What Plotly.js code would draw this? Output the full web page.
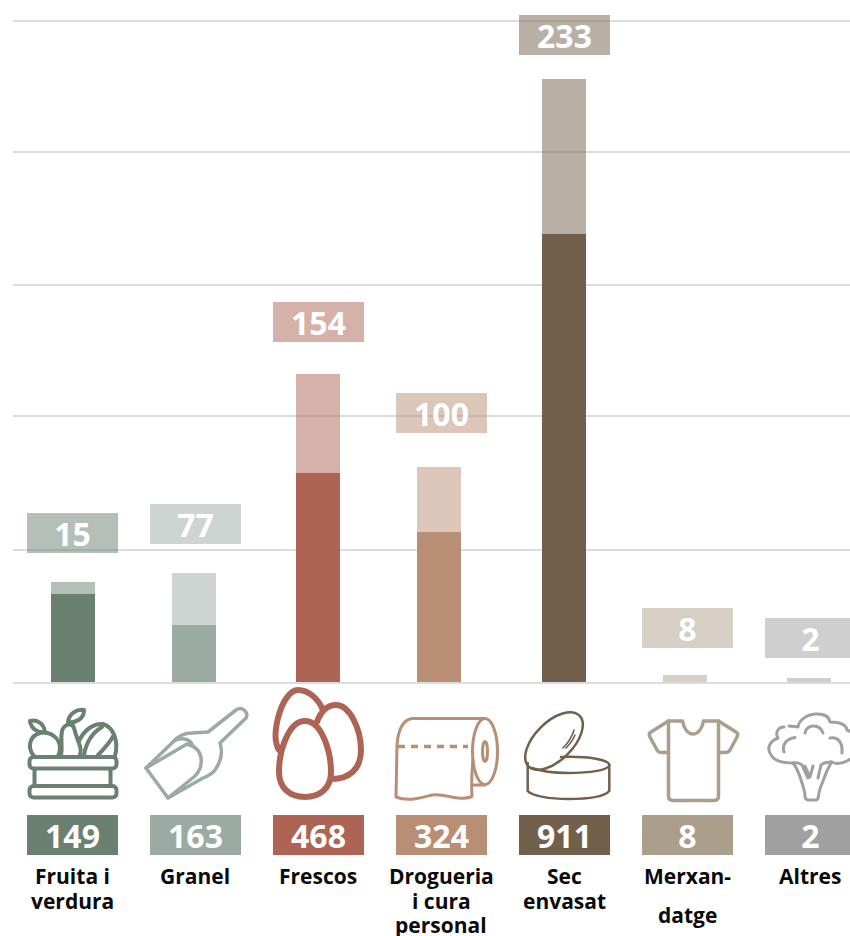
<!DOCTYPE html>
<html>
<head>
<meta charset="utf-8">
<script src="https://cdn.plot.ly/plotly-3.0.1.min.js"></script>
<style>html,body{margin:0;padding:0;background:#fff;overflow:hidden}#chart{width:850px;height:936px}</style>
</head>
<body>
<div id="chart"></div>
<script>
// --- data ---
var categories = ['Fruita i verdura','Granel','Frescos','Drogueria i cura personal','Sec envasat','Merxandatge','Altres'];
var lowerLabels = [149,163,468,324,911,8,2];
var upperLabels = [15,77,154,100,233,8,2];
// drawn bar heights (bars are not proportional to the printed labels)
var lowerHeights = [133,86,315,226,676,0,0];
var upperHeights = [18.5,78.5,149.5,98,234,10,5.5];
var gridValues = [-1,200,402,600,799.5,998];
var labelLines = [['Fruita i','verdura'],['Granel'],['Frescos'],['Drogueria','i cura','personal'],['Sec','envasat'],['Merxan-','datge'],['Altres']];

// --- styles and layout constants ---
var baseColors = ['#6a8070','#9baaa3','#ad6454','#b88e74','#73604c','#ab9f8b','#a0a0a0'];
function alpha(hex,a){var n=parseInt(hex.slice(1),16);return 'rgba('+(n>>16)+','+((n>>8)&255)+','+(n&255)+','+a+')';}
var W=850,H=936,LEFT=13,PLOT_BOTTOM=700,BASE=682,SCALE=0.6625,STEP=123,FIRST=72.5;
var BAR_W=44;
var barShift=[0.5,-1.5,-0.5,-2.5,-0.5,-2.5,-1.5];
var upperBoxTop=[513,504,302,393,15,608,618];
var lowerBoxTop=815,BOX_W=91,BOX_H=40;
var lineCenters=[[876,901],[876],[876],[876,901,925],[876,901],[876,915],[876]];
var labelX=[72.7,195,318,441,564,687,810];

function py(p){return (PLOT_BOTTOM-p)/PLOT_BOTTOM;}
function pxX(p){return (p-LEFT)/(W-LEFT);}
var idx=categories.map(function(_,i){return i;});
var offsets=barShift.map(function(s){return (s-BAR_W/2)/STEP;});
var widths=idx.map(function(){return BAR_W/STEP;});

var traces=[
 {type:'bar',x:idx,y:lowerHeights,width:widths,offset:offsets,marker:{color:baseColors,line:{width:0}},name:'lower',hoverinfo:'skip'},
 {type:'bar',x:idx,y:upperHeights,width:widths,offset:offsets,marker:{color:baseColors.map(function(c){return alpha(c,0.5);}),line:{width:0}},name:'upper',hoverinfo:'skip'}
];

var annotations=[];
idx.forEach(function(i){
  var big={family:'"Open Sans", sans-serif',size:32,color:'#fff',weight:700};
  annotations.push({xref:'x',yref:'paper',x:i,y:py(upperBoxTop[i]),xanchor:'center',yanchor:'top',showarrow:false,
    text:'<b>'+upperLabels[i]+'</b>',width:BOX_W,height:BOX_H,borderpad:0,borderwidth:0,bgcolor:alpha(baseColors[i],0.5),font:big,align:'center',valign:'middle'});
  annotations.push({xref:'x',yref:'paper',x:i,y:py(lowerBoxTop),xanchor:'center',yanchor:'top',showarrow:false,
    text:'<b>'+lowerLabels[i]+'</b>',width:BOX_W,height:BOX_H,borderpad:0,borderwidth:0,bgcolor:baseColors[i],font:big,align:'center',valign:'middle'});
  labelLines[i].forEach(function(t,k){
    annotations.push({xref:'paper',yref:'paper',x:pxX(labelX[i]),y:py(lineCenters[i][k]),xanchor:'center',yanchor:'middle',showarrow:false,
      text:'<b>'+t+'</b>',borderpad:0,font:{family:'"Open Sans", sans-serif',size:21,color:'#0a0a0a'}});
  });
});

// --- decorative icons (pictograms), all in page pixel coordinates ---
var iconSvg=[
 // crate of fruit
 '<g fill="none" stroke-width="4" stroke-linejoin="round" stroke-linecap="round">'+
 '<rect x="29.5" y="757" width="87" height="11.5" rx="4"/><rect x="29.5" y="786" width="87" height="11.5" rx="4"/>'+
 '<path d="M34.5,769V786M110.5,769V786"/>'+
 '<path d="M34,756C27,748 29,736 40,733C50,731 60,738 60,748C60,751 59,754 58,756"/>'+
 '<path d="M30,721C36,719 44,723 45,732C38,733 31,729 30,721Z"/>'+
 '<path d="M61,755C63,745 60,740 62,731C64,724 72,722 74,728C76,736 77,738 80,746C81,749 81,752 80,755"/>'+
 '<path d="M84,710C76,709 69,714 68,722C76,723 84,719 84,710Z"/>'+
 '<path d="M79,741C84,730 94,723 103,724C113,727 119,740 115,756"/>'+
 '<path d="M84,755C86,743 92,733 102,727M98,755C104,749 110,742 114,735"/></g>',
 // scoop
 '<g fill="none" stroke-width="3.5" stroke-linejoin="round" stroke-linecap="round">'+
 '<path d="M146,768L173,742C178,736 184,733 192,733L208,732L236,710C242,706 249,712 246,718L220,743C223,752 222,760 215,770C212,774 208,776 203,778L168,798Z"/>'+
 '<path d="M146,768L187,744C194,746 200,750 201,758C202,766 199,772 195,776L168,798"/>'+
 '<path d="M174,741C180,737 190,738 193,746"/></g>',
 // eggs
 '<g fill="none" stroke-width="6" stroke-linejoin="round" stroke-linecap="round">'+
 '<path d="M305,721C322,721 331,752 331,772C331,788 320,797 305,797C290,797 279,788 279,772C279,752 288,721 305,721Z"/>'+
 '<path d="M279,750C274,742 275,730 278,718C282,702 290,690 298,690C308,690 318,698 323,710"/>'+
 '<path d="M317,722C321,711 328,705 336,705C350,705 361,730 361,750C361,770 348,779 332,779"/></g>',
 // paper roll
 '<g fill="none" stroke-width="3" stroke-linejoin="round" stroke-linecap="round">'+
 '<ellipse cx="485" cy="751.5" rx="12.5" ry="33"/><ellipse cx="485" cy="751.5" rx="2.5" ry="10" stroke-width="3"/>'+
 '<path d="M485,718.5H412C402,720 398,732 397,745L396,797C408,802 420,798 432,795C446,793 458,802 472,796.5C471,780 472,770 473,760"/>'+
 '<path d="M472,785H485"/>'+
 '<path d="M398,746.5H468" stroke-width="3.5" stroke-dasharray="7 6" stroke-linecap="butt"/></g>',
 // open tin
 '<g fill="none" stroke-width="2.5" stroke-linejoin="round" stroke-linecap="round">'+
 '<ellipse cx="554" cy="741" rx="36" ry="19" transform="rotate(-45 554 741)"/>'+
 '<path d="M563,748C568,743 572,737 574,730M566,748C570,744 573,740 575,735" stroke-width="1.6"/>'+
 '<path d="M561,757C590,756 609,760 609.3,765C609,770 590,773 568,773C555,773 543,772 532,768"/>'+
 '<path d="M527.7,763V791C532,796 550,799 568,799C590,799 605,796 609.3,791V765"/></g>',
 // t-shirt
 '<g fill="none" stroke-width="3.5" stroke-linejoin="round" stroke-linecap="round">'+
 '<path d="M668.5,721H682.5C684,729 688,734 693,734C698,734 702,729 703.5,721H718.5L736,732C738,733 738,735 737,737L730,750C729,752 727,752.5 725,752.5H718.5"/>'+
 '<path d="M668.5,721L651,732C649,733 649,735 650,737L657,750C658,752 660,752.5 662,752.5H668.5"/>'+
 '<path d="M668.5,721V796C668.5,799 670,800.5 673,800.5H714C717,800.5 718.5,799 718.5,796V721"/></g>',
 // broccoli
 '<g fill="none" stroke-width="3" stroke-linejoin="round" stroke-linecap="round">'+
 '<path d="M793,763C785,763 775,762 771,755C766,748 770,741 778,738C775,733 778,727 784,727"/>'+
 '<path d="M789,726C792,726 796,727 798,727C799,720 807,714 817,714C824,714 829,716 830,722C838,722 846,724 847,730C853,732 856,738 855,741"/>'+
 '<path d="M831.5,762C838,765 845,763 852,758C857,756 859,750 858,745"/>'+
 '<path d="M793,763C797,768 800,776 802,783C804,789 805,793 805,796C805,799 806,800 809,800H815C818,800 818.5,798 818.5,796C819,790 821,786 823,781C825,775 828,768 831.5,762"/>'+
 '<path d="M793,763C798,762 800,763 802,765L808,778M831.5,762C826,762 823,763 821,765L818,778"/>'+
 '<path d="M805,766L810,777L813,766"/>'+
 '<path d="M805,733C806,728 810,726 814,726C818,726 822,729 823,733"/>'+
 '<path d="M784,752C782,746 785,739 795,737.5"/>'+
 '<path d="M830,738C837,737 843,741 842,753"/></g>'
];
var allIcons=iconSvg.map(function(g,i){return '<g stroke="'+baseColors[i]+'">'+g+'</g>';}).join('');
var svgText='<svg xmlns="http://www.w3.org/2000/svg" width="850" height="125" viewBox="0 684 850 125">'+allIcons+'</svg>';
var images=[{source:'data:image/svg+xml;charset=utf-8,'+encodeURIComponent(svgText),xref:'paper',yref:'paper',
    x:pxX(0),y:py(684),sizex:850/(W-LEFT),sizey:125/PLOT_BOTTOM,xanchor:'left',yanchor:'top',sizing:'stretch',layer:'above'}];

var layout={
  width:W,height:H,autosize:false,showlegend:false,barmode:'stack',
  paper_bgcolor:'#fff',plot_bgcolor:'#fff',
  margin:{l:LEFT,r:0,t:0,b:H-PLOT_BOTTOM,pad:0},
  xaxis:{type:'linear',range:[(LEFT-FIRST)/STEP,(W-FIRST)/STEP],showgrid:false,zeroline:false,showticklabels:false,ticks:'',showline:false},
  yaxis:{range:[-(PLOT_BOTTOM-BASE)/SCALE,BASE/SCALE],tickmode:'array',tickvals:gridValues,showticklabels:false,ticks:'',showgrid:true,gridcolor:'#dcdcdc',gridwidth:2,zeroline:false,showline:false},
  annotations:annotations,images:images
};
Plotly.newPlot('chart',traces,layout,{displayModeBar:false,staticPlot:true});
</script>
</body>
</html>
